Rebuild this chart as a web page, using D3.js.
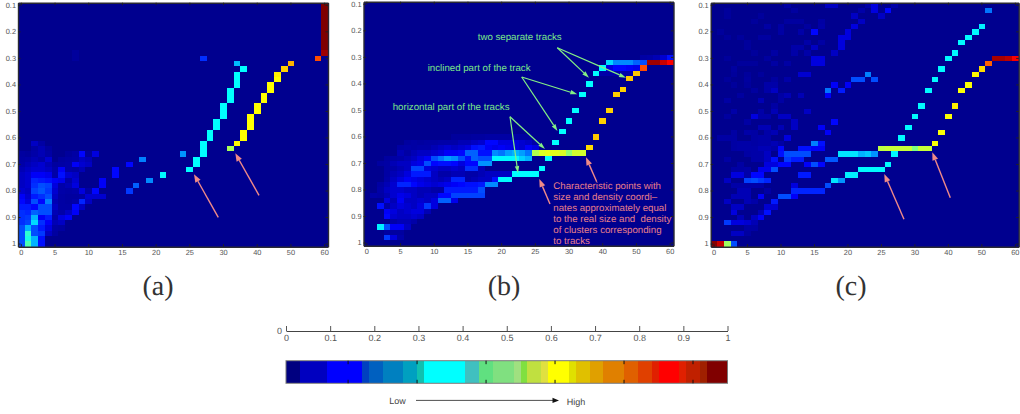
<!DOCTYPE html>
<html>
<head>
<meta charset="utf-8">
<script src="https://cdn.jsdelivr.net/npm/d3@7"></script>
<style>
body { margin: 0; background: #fff; }
text { font-family: "Liberation Sans", Arial, sans-serif; white-space: pre; text-rendering: geometricPrecision; }
</style>
</head>
<body>
<div id="chart"></div>
<script>
// axis labels, one per tick
var sizeLabels = [0, 5, 10, 15, 20, 25, 30, 40, 50, 60];
var densityLabels = ["0.1", "0.2", "0.3", "0.4", "0.5", "0.6", "0.7", "0.8", "0.9", "1"];
var gridSize = 46;

// heat map cells: [row, first column, value, value, ...]
var cellsA = [
	[0,45,1],[1,45,1],[2,45,1],[3,45,1],[4,45,1],[5,45,1],[6,45,1],[7,45,1],[8,45,1],
	[9,8,.03],[9,45,.97],
	[10,8,.03],[10,27,.17],[10,44,.8],
	[11,32,.31],[11,40,.7],
	[12,33,.375],[12,39,.67],
	[13,32,.375],[13,38,.64],
	[14,32,.375],[14,38,.625],
	[15,32,.375],[15,37,.625],
	[16,31,.375],[16,37,.625],
	[17,31,.375],[17,36,.625],
	[18,31,.375],[18,36,.625],
	[19,30,.375],[19,35,.625],
	[20,30,.375],[20,35,.625],
	[21,30,.375],[21,34,.625],
	[22,29,.375],[22,34,.625],
	[23,29,.375],[23,34,.625],
	[24,28,.375],[24,33,.625],
	[25,28,.375],[25,33,.625],
	[26,2,.08,.05],[26,27,.375],[26,32,.63],
	[27,2,.05,.07,.04],[27,27,.375],[27,31,.54],
	[28,0,.04,.03,.06,.07,.05],[28,7,.03,.05,.13,.03,.1],[28,24,.27],[28,27,.375],
	[29,0,.05,.06,.07,.06,.09],[29,6,.04,.05,.06,.08,.07],[29,18,.25],[29,26,.375],
	[30,0,.06,.07,.08,.09,.07,.04,.05,.06,.12,.09,.08],[30,16,.13],[30,26,.375],
	[31,0,.07,.08,.09,.09,.08,.06,.12,.06,.05,.07],[31,14,.13],[31,25,.375],
	[32,0,.08,.09,.12,.12,.11,.06,.14,.09,.08],[32,14,.13],[32,21,.37],
	[33,0,.08,.09,.16,.15,.14,.12,.11,.06,.09],[33,12,.12],[33,19,.26],
	[34,0,.08,.09,.17,.2,.19,.1,.06,.07,.1],[34,12,.12],[34,17,.22],
	[35,0,.09,.08,.19,.21,.18,.09,.06,.05,.06,.1,.05,.13],[35,16,.18],
	[36,0,.12,.09,.15,.17,.2,.08,.05,.04,.04,.05,.09,.09,.09],
	[37,0,.13,.1,.2,.13,.25,.07,.05,.04,.06,.16,.08],
	[38,0,.15,.15,.13,.2,.2,.08,.05,.05,.13,.08],
	[39,0,.17,.16,.22,.2,.2,.07,.06,.08,.12],
	[40,0,.17,.18,.3,.12,.15,.06,.1,.12],
	[41,0,.17,.19,.34,.17,.12,.07,.08],
	[42,0,.2,.3,.2,.15,.1,.05,.04],
	[43,0,.2,.42,.2,.18,.08,.04],
	[44,0,.2,.4,.3,.14],
	[45,0,.2,.45,.3,.14]
];

var cellsB = [
	[10,41,.05,.06,.07,.09,.14],
	[11,36,.34,.26,.26,.26,.22,.2,.97,.97,.93,.88],
	[12,35,.375,.1,.13,.13,.12,.11,.8],
	[13,34,.375,.06,.06,.06,.06,.06,.68],
	[14,39,.68],
	[15,33,.375],
	[16,38,.67],
	[17,32,.375],[17,37,.67],
	[20,31,.375],[20,36,.67],
	[22,30,.375],[22,35,.67],
	[24,29,.375],
	[25,13,.03,.03,.03,.04,.04,.05,.05,.05,.05,.05,.04,.04],[25,34,.68],
	[26,6,.04,.05,.04,.05,.05,.06,.06,.06,.07,.07,.08,.09,.13,.13,.1,.1,.1,.09,.08,.06],[26,28,.375],
	[27,5,.05,.06,.05,.06,.06,.07,.08,.09,.08,.09,.1,.14,.15,.12,.11,.12,.11,.1,.09,.12,.1],[27,33,.66],
	[28,5,.07,.05,.07,.08,.08,.09,.1,.12,.12,.13,.22,.22,.14,.14,.26,.24,.28,.3,.28,.24,.55,.59,.6,.6,.59,.52,.58,.58],
	[29,3,.04,.05,.06,.07,.08,.1,.12,.2,.24,.28,.26,.2,.14,.22,.2,.2,.37,.37,.37,.37,.33,.3],[29,27,.375],
	[30,2,.04,.05,.07,.08,.08,.1,.11,.2,.13,.14,.14,.13,.1,.13,.13,.27,.27],
	[31,3,.05,.06,.07,.08,.19,.19,.1,.09,.08,.08,.09,.08,.17,.17,.07],[31,26,.375],
	[32,3,.05,.07,.08,.1,.15,.15,.15,.08,.06,.06,.07,.07,.06,.06,.07,.08,.08,.08,.08,.375,.375,.375,.375],
	[33,3,.06,.08,.1,.12,.11,.1,.09,.08,.07,.08,.16,.16,.06,.07,.08,.08,.14,.37,.37],
	[34,2,.05,.07,.09,.16,.16,.13,.11,.1,.09,.1,.11,.12,.13,.14,.14,.15,.26,.26],
	[35,2,.06,.08,.09,.09,.08,.08,.07,.07,.06,.05,.15,.15,.15,.15,.15,.2],
	[36,1,.06,.05,.07,.09,.11,.1,.08,.07,.08,.08,.13,.13,.19,.19,.19,.19,.19],
	[37,3,.1,.07,.12,.08,.08,.09,.08,.1,.22,.22,.11],
	[38,2,.14,.06,.08,.1,.09,.08,.1,.18,.1],
	[39,3,.12,.1,.08,.09,.1,.1,.07],
	[40,3,.13,.09,.08,.08,.09,.08],
	[41,4,.06,.07,.07,.06],
	[42,2,.36,.2,.12,.12,.08],
	[43,3,.04,.04,.04],
	[44,3,.18,.1,.06]
];

var cellsC = [
	[0,11,.05],[0,17,.08,.08],[0,23,.06,.1],[0,27,.06],
	[1,2,.03],[1,12,.04],[1,22,.06],[1,24,.1],[1,26,.13],[1,41,.24],
	[2,2,.03],[2,7,.03],[2,21,.08],[2,25,.08],
	[3,6,.03],[3,11,.04,.04,.04],[3,16,.05],[3,22,.08],
	[4,8,.05],[4,10,.05],[4,14,.04],[4,16,.06],[4,21,.1],[4,40,.36],
	[5,1,.03],[5,10,.05],[5,13,.06],[5,15,.13],[5,20,.1],[5,39,.37],
	[6,2,.03],[6,4,.03],[6,7,.04,.04],[6,19,.1,.1],[6,38,.37],
	[7,5,.03],[7,14,.06],[7,16,.05],[7,19,.1],[7,37,.37],
	[8,5,.03],[8,12,.06,.06],[8,15,.08],[8,19,.1],
	[9,6,.03],[9,9,.05],[9,12,.06],[9,14,.06],[9,18,.08],[9,36,.37],
	[10,2,.03],[10,8,.04],[10,15,.1,.1],[10,35,.37],[10,42,.96,.96,.94,.88],
	[11,4,.03,.03,.03],[11,9,.05],[11,11,.05],[11,15,.1,.1],[11,41,.78],
	[12,3,.04],[12,34,.37],[12,40,.66],
	[13,3,.03],[13,5,.03],[13,7,.03],[13,13,.09,.09],[13,23,.25],[13,39,.63],
	[14,2,.03],[14,5,.04],[14,9,.04],[14,11,.06],[14,21,.2,.2],[14,24,.2],[14,33,.37],
	[15,3,.03],[15,5,.03],[15,8,.06,.06],[15,18,.12],[15,20,.12],[15,38,.62],
	[16,6,.04],[16,8,.06,.08],[16,17,.24],[16,19,.15],[16,32,.37],[16,37,.62],
	[17,4,.04],[17,10,.05,.07],[17,13,.07],[17,17,.12],
	[18,2,.05],[18,7,.07],[18,10,.05],
	[19,9,.05],[19,31,.37],[19,36,.64],
	[20,3,.06],[20,7,.06],[20,9,.07],[20,14,.08],
	[21,2,.04],[21,6,.1,.06,.06],[21,10,.08,.08],[21,30,.37],[21,35,.62],
	[22,5,.05],[22,12,.08],[22,18,.13],
	[23,7,.07,.07],[23,10,.07],[23,12,.08],[23,16,.12],[23,29,.37],
	[24,3,.05],[24,5,.06,.05],[24,8,.06,.07],[24,17,.12],[24,34,.62],
	[25,1,.05,.05],[25,3,.05],[25,6,.05,.06,.06],[25,11,.1],[25,28,.37],
	[26,3,.05,.06,.06,.05,.06,.06,.07,.05],[26,15,.25,.14],[26,33,.62],
	[27,3,.05,.06,.06,.06,.07,.07,.06],[27,10,.13],[27,13,.14,.14,.12,.12],[27,25,.56,.57,.57,.57,.57,.5,.57,.57],
	[28,5,.05,.06,.06,.08],[28,10,.14,.2,.2,.2,.2],[28,19,.35,.35,.35,.3,.32,.27],[28,27,.37],
	[29,2,.05],[29,6,.06,.06,.08,.14],[29,11,.18,.15,.15],[29,17,.21,.21],
	[30,4,.05],[30,8,.1,.1,.13,.13],[30,14,.12,.2,.13],[30,26,.37],
	[31,3,.05,.05,.06],[31,7,.11,.11,.2],[31,22,.37,.37,.37,.37],
	[32,3,.1,.1,.06,.13,.13],[32,13,.15,.15],[32,20,.36,.36],
	[33,2,.08],[33,5,.19,.2,.18,.16],[33,18,.35,.27],
	[34,3,.06,.06,.06,.06,.06],[34,12,.1],[34,17,.2],
	[35,4,.07,.07],[35,8,.05],[35,12,.16,.16,.16,.16,.16],
	[36,3,.07,.07,.07],[36,7,.12],[36,10,.2,.2,.12],
	[37,2,.08],[37,5,.07,.06],[37,9,.15],
	[38,3,.08,.08],[38,8,.09,.09],
	[39,3,.1],[39,7,.07,.14],
	[40,4,.07],[40,6,.08,.12],
	[41,2,.18,.1,.1,.09,.07],
	[42,5,.05,.05],
	[43,3,.08,.08,.04],
	[45,0,.99,.93,.53,.2]
];

// colour bar: palette entries and how many of the 64 steps each covers
var barColors = ["#000080", "#0000c0", "#0000ff", "#0040c0", "#0060c0", "#0080c0", "#00a0c0", "#10c0b0",
	"#00ffff", "#40c0c0", "#60e080", "#80e080", "#a0e080", "#80e040", "#c0e040", "#e0e040", "#ffff00",
	"#e0e000", "#e0c000", "#e0a000", "#e08000", "#e06000", "#e04000", "#e02000", "#ff0000", "#e02000",
	"#c02000", "#a02000", "#800000"];
var barRuns = [2, 4, 5, 1, 2, 3, 2, 1, 6, 2, 2, 3, 1, 1, 2, 1, 3, 1, 2, 2, 3, 2, 2, 1, 3, 1, 2, 1, 3];
var barTicks = [0, 0.1, 0.2, 0.3, 0.4, 0.5, 0.6, 0.7, 0.8, 0.9, 1];
var barImageTicks = [9, 19, 29, 39, 49, 59];

var width = 1020;
var height = 414;

// jet, kept dark at the low end
var jet = d3.scaleLinear()
	.domain([0, 0.06, 0.125, 0.375, 0.625, 0.875, 1])
	.range(["#00008f", "#0000a8", "#0000ff", "#00ffff", "#ffff00", "#ff0000", "#7f0000"]);

var svg = d3.select("#chart").append("svg")
	.attr("width", width)
	.attr("height", height)
	.style("display", "block");

function toGrid(cells) {
	var grid = [];
	d3.range(gridSize).forEach(function(r) {
		d3.range(gridSize).forEach(function(c) {
			grid.push({ row: r, col: c, value: 0 });
		});
	});
	cells.forEach(function(run) {
		run.slice(2).forEach(function(v, i) {
			grid[run[0] * gridSize + run[1] + i].value = v;
		});
	});
	return grid;
}

function drawPanel(cells, left, top, w, h) {
	var x = d3.scaleBand().domain(d3.range(gridSize)).range([left, left + w]);
	var y = d3.scaleBand().domain(d3.range(gridSize)).range([top, top + h]);
	var g = svg.append("g");

	g.append("g")
		.attr("shape-rendering", "crispEdges")
		.selectAll("rect")
		.data(toGrid(cells))
		.join("rect")
		.attr("x", (d) => x(d.col))
		.attr("y", (d) => y(d.row))
		.attr("width", x.bandwidth() + 0.5)
		.attr("height", y.bandwidth() + 0.5)
		.attr("fill", (d) => jet(d.value));

	var colTicks = sizeLabels.map((d, i) => i * 5);
	var rowTicks = densityLabels.map((d, i) => i * 5);

	var bottom = d3.axisBottom(x).tickValues(colTicks).tickSize(-2.5).tickPadding(3.5)
		.tickFormat((d, i) => sizeLabels[i]);
	var leftAxis = d3.axisLeft(y).tickValues(rowTicks).tickSize(-2.5).tickPadding(2)
		.tickFormat((d, i) => densityLabels[i]);
	var topAxis = d3.axisTop(x).tickValues(colTicks).tickSize(-2.5).tickFormat("");
	var rightAxis = d3.axisRight(y).tickValues(rowTicks).tickSize(-2.5).tickFormat("");

	[
		[bottom, 0, top + h],
		[leftAxis, left, 0],
		[topAxis, 0, top],
		[rightAxis, left + w, 0]
	].forEach(function(a) {
		var ax = g.append("g")
			.attr("transform", `translate(${a[1]},${a[2]})`)
			.call(a[0].tickSizeOuter(0));
		ax.select(".domain").attr("stroke", "#2a2a33").attr("stroke-width", 1.4);
		ax.selectAll(".tick line").attr("stroke", "#222");
		ax.selectAll("text").attr("fill", "#555").attr("font-size", 7.4).attr("font-family", "Liberation Sans");
	});
}

drawPanel(cellsA, 18, 2.7, 310, 244);
drawPanel(cellsB, 363.5, 1.7, 310, 244);
drawPanel(cellsC, 710.7, 2.7, 308, 244);

// arrows drawn over the maps
function arrow(x1, y1, x2, y2, color, headLen, headHalf, strokeW) {
	var a = Math.atan2(y2 - y1, x2 - x1);
	var bx = x2 - headLen * Math.cos(a),
		by = y2 - headLen * Math.sin(a);
	svg.append("line")
		.attr("x1", x1).attr("y1", y1).attr("x2", bx).attr("y2", by)
		.attr("stroke", color).attr("stroke-width", strokeW);
	svg.append("polygon")
		.attr("points", [
			[x2, y2],
			[bx - headHalf * Math.sin(a), by + headHalf * Math.cos(a)],
			[bx + headHalf * Math.sin(a), by - headHalf * Math.cos(a)]
		].join(" "))
		.attr("fill", color);
}

var pink = "#f08a88";
var green = "#84f084";

arrow(218.3, 217.3, 194, 174.3, pink, 8, 3, 1.4);
arrow(259, 195.3, 235.3, 153.3, pink, 8, 3, 1.4);
arrow(550, 204, 539.3, 179, pink, 8, 3, 1.4);
arrow(596.7, 181.7, 586, 157.3, pink, 8, 3, 1.4);
arrow(904, 219.3, 884.3, 174, pink, 8, 3, 1.4);
arrow(950.3, 197.7, 932.3, 152.3, pink, 8, 3, 1.4);

arrow(557.3, 47.7, 589, 77.7, green, 7, 2.2, 1.2);
arrow(557.3, 47.7, 626, 77.7, green, 7, 2.2, 1.2);
arrow(521.7, 77, 577.3, 94.3, green, 7, 2.2, 1.2);
arrow(521.7, 77, 557.5, 131, green, 7, 2.2, 1.2);
arrow(510, 116.7, 545, 149, green, 7, 2.2, 1.2);
arrow(510, 116.7, 518, 173, green, 7, 2.2, 1.2);

function note(txt, x, y, color, size) {
	svg.append("text")
		.attr("x", x).attr("y", y)
		.attr("fill", color)
		.attr("font-size", size)
		.text(txt);
}

note("two separate tracks", 477.7, 40, "#7ce88a", 9.7);
note("inclined part of the track", 427.7, 71, "#7ce88a", 9.7);
note("horizontal part of the tracks", 392.7, 110, "#7ce88a", 9.7);

var pinkLines = ["Characteristic points with", "size and density coordi\u2013", "nates approximately equal",
	"to the real size and  density", "of clusters corresponding", "to tracks"];
var pinkRows = [188.5, 199.5, 210.5, 221.7, 232.7, 244.2];
pinkLines.forEach(function(t, i) {
	note(t, 553.3, pinkRows[i], "#e87f8a", 9.7);
});

// captions
[["(a)", 158], ["(b)", 504], ["(c)", 851]].forEach(function(c) {
	svg.append("text")
		.attr("x", c[1]).attr("y", 295)
		.attr("text-anchor", "middle")
		.style("font-family", "'Liberation Serif', serif")
		.attr("font-size", 28)
		.attr("fill", "#333")
		.text(c[0]);
});

// colour bar
var barSteps = [];
barRuns.forEach(function(n, i) {
	d3.range(n).forEach(function() { barSteps.push(barColors[i]); });
});

var barX = d3.scaleLinear().domain([0, 1]).range([286, 727.5]);
var barBand = d3.scaleBand().domain(d3.range(barSteps.length)).range(barX.range());
var barTop = 360.7, barH = 22.6;

svg.append("g")
	.attr("shape-rendering", "crispEdges")
	.selectAll("rect")
	.data(barSteps)
	.join("rect")
	.attr("x", (d, i) => barBand(i))
	.attr("y", barTop)
	.attr("width", barBand.bandwidth() + 0.5)
	.attr("height", barH)
	.attr("fill", (d) => d);

svg.append("rect")
	.attr("x", 286).attr("y", barTop)
	.attr("width", 441.5).attr("height", barH)
	.attr("fill", "none")
	.attr("stroke", "#777")
	.attr("stroke-width", 1);

svg.append("g").selectAll("path")
	.data(barImageTicks)
	.join("path")
	.attr("d", (d) => {
		var px = barBand(d);
		return `M${px},${barTop}v3.5M${px},${barTop + barH}v-3.5`;
	})
	.attr("stroke", "#111");

var barAxis = svg.append("g")
	.attr("transform", "translate(0,331)")
	.call(d3.axisBottom(barX).tickValues(barTicks).tickSize(-5).tickSizeOuter(0).tickPadding(4)
		.tickFormat((d) => d));
barAxis.select(".domain").attr("stroke", "#444");
barAxis.selectAll(".tick line").attr("stroke", "#555");
barAxis.selectAll("text").attr("fill", "#555").attr("font-size", 9).attr("font-family", "Liberation Sans");

note("0", 277, 334, "#555", 9);
note("Low", 389.3, 404, "#444", 9);
note("High", 566.7, 404.5, "#444", 9);

svg.append("line")
	.attr("x1", 416).attr("y1", 400.4).attr("x2", 553).attr("y2", 400.4)
	.attr("stroke", "#222").attr("stroke-width", 0.8);
svg.append("polygon")
	.attr("points", "559,400.4 552.5,397.8 552.5,403")
	.attr("fill", "#111");
</script>
</body>
</html>
